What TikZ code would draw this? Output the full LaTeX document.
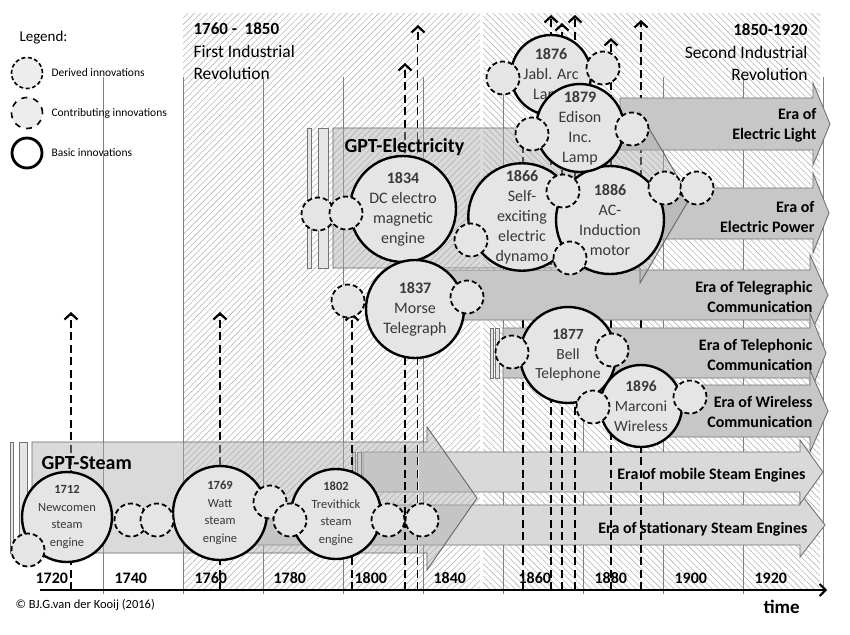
\documentclass[tikz,border=0pt]{standalone}
\usepackage{fontspec}
\setmainfont{Carlito}
\usetikzlibrary{arrows.meta,patterns.meta}
\newcommand\myera[8]{\draw[#1] (#2,#3) -- (#5,#3) -- (#5,#6) -- (#8,{(#6+#7)/2}) -- (#5,#7) -- (#5,#4) -- (#2,#4) -- cycle;}
\tikzset{
 hatchA/.style={pattern={Lines[angle=45,distance=4.5pt,line width=0.6pt]},pattern color=black!28},
 hatchB/.style={pattern={Lines[angle=-45,distance=4.5pt,line width=0.6pt]},pattern color=black!28},
 gridln/.style={draw=black!50,line width=0.8pt},
 eraarr/.style={fill=black!22,draw=black!55,line width=0.9pt},
 eraarrL/.style={fill=black!15,draw=black!55,line width=0.9pt},
 gptbox/.style={fill=black!32,fill opacity=0.45,draw=black!60,line width=0.9pt},
 gptstrip/.style={fill=black!10,draw=black!55,line width=0.8pt},
 basic/.style={circle,draw=black,line width=2.4pt,fill=black!10,inner sep=0pt,text=black!78,align=center},
 deriv/.style={circle,draw=black,line width=1.8pt,dash pattern=on 5pt off 3pt,fill=black!10,minimum size=33pt,inner sep=0pt},
 dasharr/.style={line width=2.8pt,dash pattern=on 8pt off 4.5pt,-{Straight Barb[length=6pt,width=13pt,line width=2.2pt]}},
 dashln/.style={line width=2.8pt,dash pattern=on 8pt off 4.5pt},
 eratxt/.style={anchor=east,align=right,font=\fontsize{16}{20}\selectfont\bfseries},
 yeartxt/.style={anchor=west,font=\fontsize{16}{19}\selectfont\bfseries},
 smalltxt/.style={anchor=west,font=\fontsize{11.5}{13}\selectfont},
}
\begin{document}
\begin{tikzpicture}[x=1pt,y=-1pt]
\useasboundingbox (0,0) rectangle (850,634);
\fill[white] (0,0) rectangle (850,634);
% background hatching
\fill[hatchA] (183,14) rectangle (480,590);
\fill[hatchB] (483,14) rectangle (820,590);
% grid lines
\foreach \gx in {103,183,263,343,423,503,583,663,743,823}{
  \draw[gridln] (\gx,77) -- (\gx,594);
}
% titles
\node[anchor=west,font=\fontsize{17}{20}\selectfont\bfseries] (t1a) at (190,29) {1760 -\ \ 1850};
\node[anchor=west,font=\fontsize{17.5}{20}\selectfont] (t1b) at (190,51) {First Industrial};
\node[anchor=west,font=\fontsize{17.5}{20}\selectfont] (t1c) at (190,73) {Revolution};
\node[anchor=east,font=\fontsize{17}{20}\selectfont\bfseries] (t2a) at (811,30) {1850-1920};
\node[anchor=east,font=\fontsize{17.5}{20}\selectfont] (t2b) at (811,52) {Second Industrial};
\node[anchor=east,font=\fontsize{17.5}{20}\selectfont] (t2c) at (811,74) {Revolution};
% legend
\node[anchor=west,font=\fontsize{15}{17}\selectfont] (leg) at (16,38) {Legend:};
\node[circle,draw=black,line width=1.6pt,dash pattern=on 4pt off 2.5pt,fill=black!7,minimum size=31pt,inner sep=0pt] (lg1) at (27,73) {};
\node[smalltxt] (lt1) at (48,73) {Derived innovations};
\node[circle,draw=black,line width=1.6pt,dash pattern=on 6pt off 6pt,fill=black!7,minimum size=31pt,inner sep=0pt] (lg2) at (27,113) {};
\node[smalltxt] (lt2) at (48,113) {Contributing innovations};
\node[circle,draw=black,line width=2.8pt,fill=white,minimum size=30pt,inner sep=0pt] (lg3) at (27,153) {};
\node[smalltxt] (lt3) at (48,153) {Basic innovations};
% early dashed arrows (behind GPT-Steam)
\coordinate (d1b) at (71,590); \coordinate (d1t) at (71,312);
\coordinate (d2b) at (220,590); \coordinate (d2t) at (220,312);
\draw[dasharr] (d1b) -- (d1t);
\draw[dasharr] (d2b) -- (d2t);
% steam eras
\myera{eraarrL}{240}{505}{545}{800}{493}{557}{825}
\myera{eraarrL}{363}{452}{492}{800}{440}{504}{823}
\draw[gptstrip] (352,452) rectangle (355,492);
\draw[gptstrip] (357,452) rectangle (361,492);
% GPT-Steam
\draw[gptstrip] (10,442) rectangle (13,553);
\draw[gptstrip] (19,442) rectangle (27,553);
\draw[gptbox] (32,442) -- (427,442) -- (427,427) -- (477,498) -- (427,570) -- (427,553) -- (32,553) -- cycle;
\node[anchor=west,font=\fontsize{20}{22}\selectfont\bfseries] (gpts) at (38,463) {GPT-Steam};
% later dashed arrows
\coordinate (d3b) at (352,590); \coordinate (d3t) at (352,313);
\coordinate (d4b) at (405,590); \coordinate (d4t) at (405,63);
\coordinate (d5b) at (418,590); \coordinate (d5t) at (418,25);
\coordinate (d5m) at (418,40);
\coordinate (d6b) at (523,590); \coordinate (d6t) at (523,140);
\coordinate (d7b) at (551,590); \coordinate (d7t) at (551,15);
\coordinate (d8b) at (562,590); \coordinate (d8t) at (562,23);
\coordinate (d9b) at (575,590); \coordinate (d9t) at (575,15);
\coordinate (d10b) at (611,590); \coordinate (d10t) at (611,38);
\coordinate (d11b) at (641,590); \coordinate (d11t) at (641,20);
\draw[dasharr] (d3b) -- (d3t);
\draw[dasharr] (d4b) -- (d4t);
\draw[dasharr] (d5b) -- (d5t);
\draw[white,line width=0.9pt,dash pattern=on 8pt off 4.5pt] (d5b) -- (d5m);
\draw[dashln] (d6b) -- (d6t);
\draw[dasharr] (d7b) -- (d7t);
\draw[dasharr] (d8b) -- (d8t);
\draw[dasharr] (d9b) -- (d9t);
\draw[dasharr] (d10b) -- (d10t);
\draw[dasharr] (d11b) -- (d11t);
% electricity eras
\myera{eraarr}{620}{98}{150}{813}{83}{165}{830}
\myera{eraarr}{620}{188}{239}{813}{173}{253}{829}
\myera{eraarr}{420}{270}{320}{810}{255}{335}{828}
\myera{eraarr}{503}{328}{378}{810}{313}{393}{826}
\draw[gptstrip] (490,328) rectangle (493,378);
\draw[gptstrip] (495,328) rectangle (499,378);
\myera{eraarr}{620}{385}{437}{810}{370}{452}{828}
% GPT-Electricity
\draw[gptstrip] (307,128) rectangle (311,268);
\draw[gptstrip] (318,128) rectangle (328,268);
\draw[gptbox] (333,128) -- (640,128) -- (640,113) -- (690,198) -- (640,283) -- (640,268) -- (333,268) -- cycle;
\node[anchor=west,font=\fontsize{20}{22}\selectfont\bfseries] (gpte) at (341,147) {GPT-Electricity};
% era texts
\node[eratxt] (e1) at (820,125) {Era of\\Electric Light};
\node[eratxt] (e2) at (818,217) {Era of\\Electric Power};
\node[eratxt] (e3) at (816,297) {Era of Telegraphic\\Communication};
\node[eratxt] (e4) at (816,355) {Era of Telephonic\\Communication};
\node[eratxt] (e5) at (816,412) {Era of Wireless\\Communication};
\node[eratxt] (e6) at (809,475) {Era of mobile Steam Engines};
\node[eratxt] (e7) at (811,529) {Era of stationary Steam Engines};
% steam innovations
\node[basic,minimum size=90pt,font=\fontsize{12.5}{17.5}\selectfont] (c1712) at (67,517) {\textbf{1712}\\Newcomen\\steam\\engine};
\node[basic,minimum size=94pt,font=\fontsize{12.5}{17.5}\selectfont] (c1769) at (220,513) {\textbf{1769}\\Watt\\steam\\engine};
\node[basic,minimum size=90pt,font=\fontsize{12.5}{17.5}\selectfont] (c1802) at (336,514) {\textbf{1802}\\Trevithick\\steam\\engine};
\node[deriv] (s1) at (28,550) {};
\node[deriv] (s2) at (131,520) {};
\node[deriv] (s3) at (157,520) {};
\node[deriv] (s4) at (270,502) {};
\node[deriv] (s5) at (290,520) {};
\node[deriv] (s6) at (388,520) {};
\node[deriv] (s7) at (422,520) {};
% electricity innovations
\node[basic,minimum size=106pt,font=\fontsize{16}{20}\selectfont] (c1834) at (403,209) {\textbf{1834}\\DC electro\\magnetic\\engine};
\node[basic,minimum size=98pt,font=\fontsize{16}{20}\selectfont] (c1837) at (415,309) {\textbf{1837}\\Morse\\Telegraph};
\node[basic,minimum size=80pt,font=\fontsize{16}{20}\selectfont] (c1876) at (551,75) {\textbf{1876}\\Jabl. Arc\\Lamp};
\node[basic,minimum size=106pt,font=\fontsize{16}{20}\selectfont] (c1866) at (522,217) {\textbf{1866}\\Self-\\exciting\\electric\\dynamo};
\node[basic,minimum size=108pt,font=\fontsize{16}{20}\selectfont] (c1886) at (610,220) {\textbf{1886}\\AC-\\Induction\\motor};
\node[basic,minimum size=88pt,font=\fontsize{16}{20}\selectfont] (c1879) at (580,128) {\textbf{1879}\\Edison\\Inc.\\Lamp};
\node[basic,minimum size=96pt,font=\fontsize{15.5}{19.5}\selectfont] (c1877) at (568,355) {\textbf{1877}\\Bell\\Telephone};
\node[basic,minimum size=82pt,font=\fontsize{15.5}{20}\selectfont] (c1896) at (641,406) {\textbf{1896}\\Marconi\\Wireless};
\node[deriv] (s8) at (318,214) {};
\node[deriv] (s9) at (346,213) {};
\node[deriv] (s10) at (348,301) {};
\node[deriv] (s11) at (467,297) {};
\node[deriv] (s12) at (471,240) {};
\node[deriv] (s13) at (563,191) {};
\node[deriv] (s14) at (570,258) {};
\node[deriv] (s15) at (665,188) {};
\node[deriv] (s16) at (697,188) {};
\node[deriv] (s17) at (532,134) {};
\node[deriv] (s18) at (632,129) {};
\node[deriv] (s19) at (503,78) {};
\node[deriv] (s20) at (603,68) {};
\node[deriv] (s21) at (512,352) {};
\node[deriv] (s22) at (612,350) {};
\node[deriv] (s23) at (593,407) {};
\node[deriv] (s24) at (690,397) {};
% time axis
\coordinate (ax0) at (40,590); \coordinate (ax1) at (827,590);
\draw[line width=2.2pt,-{Straight Barb[length=6pt,width=12pt,line width=2pt]}] (ax0) -- (ax1);
\node[yeartxt] (y1720) at (32,578) {1720};
\node[yeartxt] (y1740) at (111,578) {1740};
\node[yeartxt] (y1760) at (191,578) {1760};
\node[yeartxt] (y1780) at (270,578) {1780};
\node[yeartxt] (y1800) at (351,578) {1800};
\node[yeartxt] (y1840) at (430,578) {1840};
\node[yeartxt] (y1860) at (515,578) {1860};
\node[yeartxt] (y1880) at (591,578) {1880};
\node[yeartxt] (y1900) at (671,578) {1900};
\node[yeartxt] (y1920) at (751,578) {1920};
\node[anchor=west,font=\fontsize{19}{21}\selectfont\bfseries] (time) at (760,607) {time};
\node[anchor=west,font=\fontsize{12.5}{14}\selectfont] (copy) at (12,605) {\textcopyright\ BJ.G.van der Kooij (2016)};
\end{tikzpicture}
\end{document}
